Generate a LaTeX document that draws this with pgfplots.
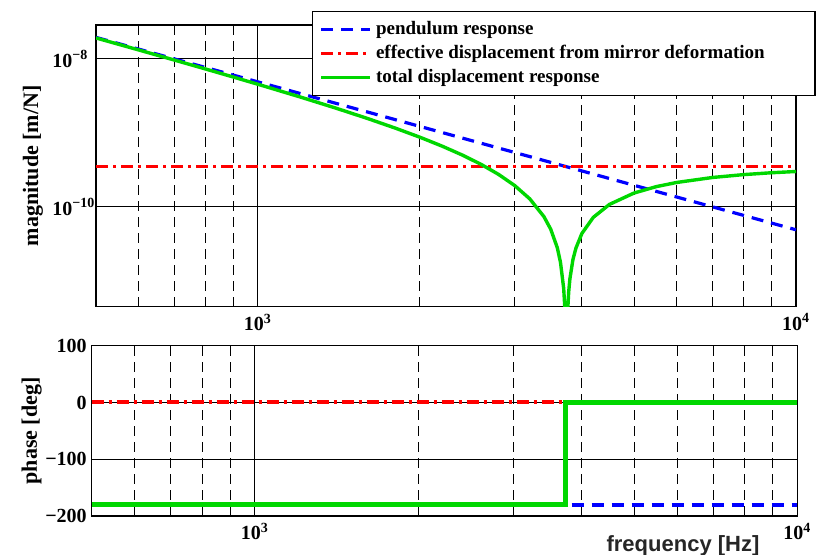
\documentclass[border=0pt]{standalone}
\usepackage{fontspec}
\setmainfont{Liberation Serif}
\setsansfont{Liberation Sans}
\usepackage{pgfplots}
\pgfplotsset{compat=1.18}
\definecolor{pblue}{RGB}{0,0,255}
\definecolor{pred}{RGB}{255,0,0}
\definecolor{pgreen}{RGB}{0,215,0}
\pgfplotsset{legend image code/.code={\draw[#1] (0pt,0pt) -- (24.5pt,0pt);}}
\begin{document}
\begin{tikzpicture}
\useasboundingbox (0,0) rectangle (410pt,277.5pt);
\begin{axis}[
  scale only axis, xmode=log, xmin=500, xmax=10000,
  xtick={1000,10000},
  xticklabels={10\textsuperscript{3},10\textsuperscript{4}},
  minor xtick={600,700,800,900,2000,3000,4000,5000,6000,7000,8000,9000},
  xmajorgrids, xminorgrids, ymajorgrids,
  major grid style={black, line width=0.5pt},
  minor grid style={black, line width=0.5pt, dash pattern=on 5pt off 3pt},
  major tick length=0pt, minor tick length=0pt,
  axis line style={line width=0.7pt},
  tick label style={font=\fontsize{10}{12}\selectfont\bfseries},
  label style={font=\fontsize{11}{13}\selectfont\bfseries},
  at={(48pt,124.15pt)}, anchor=south west,
  width=350pt, height=140.85pt,
  ymode=log, ymin=4.47e-12, ymax=2.88e-8,
  ytick={1e-10,1e-8},
  yticklabels={10\textsuperscript{−10},10\textsuperscript{−8}},
  yminorticks=false,
  yticklabel style={anchor=west, xshift=-25.3pt},
  ylabel={magnitude [m/N]},
  ylabel style={at={(axis description cs:0,0.5)}, anchor=center, yshift=31.5pt},
  legend style={at={(0.3086,1.0514)}, anchor=north west, draw=black, line width=0.6pt,
    font=\fontsize{9.5}{11}\selectfont\bfseries, cells={anchor=west},
    inner xsep=3.5pt, inner ysep=3pt, row sep=0pt},
]
\addplot[pblue, line width=1.6pt, dash pattern=on 6pt off 4pt] coordinates {
 (500,1.96e-8) (1000,4.9e-9) (2000,1.225e-9) (5000,1.96e-10) (10000,4.9e-11)};
\addlegendentry{pendulum response}
\addplot[pred, line width=1.6pt, dash pattern=on 6pt off 2.5pt on 1.5pt off 2.5pt] coordinates {
 (500,3.5e-10) (10000,3.5e-10)};
\addlegendentry{\makebox[214pt][l]{effective displacement from mirror deformation}}
\addplot[pgreen, line width=1.7pt] coordinates {
 (500,1.925e-8) (600,1.3261e-8) (700,9.65e-9) (800,7.306e-9) (900,5.699e-9)
 (1000,4.55e-9) (1200,3.053e-9) (1400,2.15e-9) (1600,1.564e-9) (1800,1.162e-9)
 (2000,8.75e-10) (2200,6.624e-10) (2400,5.007e-10) (2600,3.749e-10) (2800,2.75e-10)
 (3000,1.944e-10) (3200,1.285e-10) (3400,7.39e-11) (3500,5.0e-11) (3600,2.81e-11)
 (3650,1.78e-11) (3700,7.9e-12) (3720,4.09e-12) (3730,2.19e-12) (3741,1.23e-13)
 (3755,2.48e-12) (3760,3.41e-12) (3780,7.06e-12) (3800,1.066e-11) (3850,1.942e-11)
 (3900,2.784e-11) (4000,4.375e-11) (4200,7.22e-11) (4500,1.08e-10) (5000,1.54e-10)
 (5500,1.88e-10) (6000,2.139e-10) (7000,2.5e-10) (8000,2.734e-10) (9000,2.895e-10)
 (10000,3.01e-10)};
\addlegendentry{total displacement response}
\end{axis}
\begin{axis}[
  scale only axis, xmode=log, xmin=500, xmax=10000,
  xtick={1000,10000},
  xticklabels={10\textsuperscript{3},10\textsuperscript{4}},
  minor xtick={600,700,800,900,2000,3000,4000,5000,6000,7000,8000,9000},
  xmajorgrids, xminorgrids, ymajorgrids,
  major grid style={black, line width=0.5pt},
  minor grid style={black, line width=0.5pt, dash pattern=on 5pt off 3pt},
  major tick length=0pt, minor tick length=0pt,
  axis line style={line width=0.7pt},
  tick label style={font=\fontsize{10}{12}\selectfont\bfseries},
  label style={font=\fontsize{11}{13}\selectfont\bfseries},
  at={(45.85pt,19.5pt)}, anchor=south west,
  width=352.8pt, height=85.15pt,
  ymin=-200, ymax=100, ytick={-200,-100,0,100},
  yticklabels={−200,−100,0,100},
  yticklabel style={xshift=1pt},
  ylabel={phase [deg]},
  ylabel style={at={(axis description cs:0,0.5)}, anchor=center, yshift=30pt},
  xlabel={frequency [Hz]},
  xlabel style={font=\fontsize{11}{13}\selectfont\sffamily\bfseries, color=black!85,
    at={(axis description cs:0.838,0)}, anchor=north, inner sep=0pt, yshift=-9.5pt},
]
\addplot[pblue, line width=2pt, dash pattern=on 6pt off 4pt] coordinates {
 (500,-180) (10000,-180)};
\addplot[pred, line width=2pt, dash pattern=on 6pt off 2.5pt on 1.5pt off 2.5pt] coordinates {
 (500,0) (10000,0)};
\addplot[pgreen, line width=2.3pt] coordinates {
 (500,-180) (3741,-180) (3741,0) (10000,0)};
\end{axis}
\end{tikzpicture}
\end{document}
